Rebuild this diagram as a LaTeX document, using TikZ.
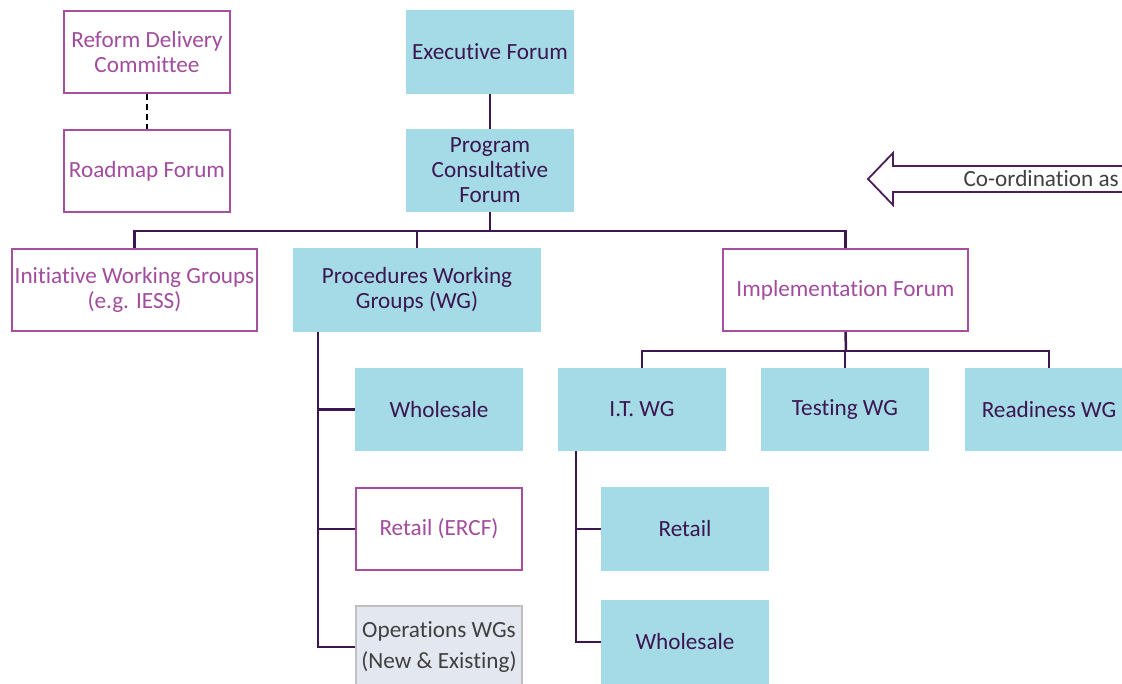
\documentclass[tikz,border=0pt]{standalone}
\usepackage{fontspec}
\setmainfont[Ligatures=NoCommon]{Carlito}
\definecolor{boxblue}{HTML}{A5DBE7}
\definecolor{ink}{HTML}{3B1650}
\definecolor{plum}{HTML}{A44FA0}
\definecolor{plumtext}{HTML}{A24C9E}
\definecolor{opsfill}{HTML}{E3E8F0}
\definecolor{opsline}{HTML}{BFBFBF}
\definecolor{arrowline}{HTML}{4B1E5A}
\definecolor{note}{HTML}{404040}
\begin{document}
\begin{tikzpicture}[x=1pt,y=-1pt,
  every node/.style={font=\fontsize{23.2}{25}\selectfont, align=center, inner sep=0pt},
  bluebox/.style={fill=boxblue, text=ink, minimum width=168pt, minimum height=84pt},
  linebox/.style={draw=plum, line width=1.6pt, fill=white, text=plumtext, minimum width=166pt, minimum height=82pt},
  greybox/.style={draw=opsline, line width=1.6pt, fill=opsfill, text=note, minimum width=166pt, minimum height=82pt},
  link/.style={draw=ink, line width=2.5pt},
  dotlink/.style={draw=black, line width=1.8pt, dash pattern=on 6pt off 4pt}]
\useasboundingbox (0,0) rectangle (1122,684);
\clip (0,0) rectangle (1122,684);
\fill[white] (0,0) rectangle (1122,684);

% governance column
\node[linebox] (rdc) at (147,52) {Reform Delivery\\Committee};
\node[linebox] (road) at (147,171) {Roadmap Forum};
\draw[dotlink] (rdc.south) -- (road.north);

% executive chain
\node[bluebox] (exec) at (490,52) {Executive Forum};
\node[bluebox, minimum height=83pt] (pcf) at (490,170.5) {Program\\Consultative\\Forum};

% second tier
\node[linebox, minimum width=245pt] (iwg) at (134.5,290) {Initiative Working Groups\\(e.g. IESS)};
\node[bluebox, minimum width=248pt] (pwg) at (417,290) {Procedures Working\\Groups (WG)};
\node[linebox, minimum width=245pt] (impl) at (845.5,290) {Implementation Forum};

% procedures branch
\node[bluebox, minimum height=83pt] (whs1) at (439,409.5) {Wholesale};
\node[linebox] (ret1) at (439,529) {Retail (ERCF)};
\node[greybox, font=\fontsize{23.2}{31}\selectfont] (ops) at (439,647) {Operations WGs\\(New \& Existing)};

% implementation branch
\node[bluebox, minimum height=83pt] (it) at (642,409.5) {I.T. WG};
\node[bluebox, minimum height=83pt] (test) at (845,409.5) {Testing WG};
\node[bluebox, minimum height=83pt] (ready) at (1049,409.5) {Readiness WG};
\node[bluebox] (ret2) at (685,529) {Retail};
\node[bluebox] (whs2) at (685,642) {Wholesale};

% connectors
\coordinate (bus) at (490,231);
\coordinate (ptrunk) at (318,332);
\coordinate (ibus) at (846,351);
\coordinate (ittrunk) at (576,451);

\draw[link] (exec.south) -- (pcf.north);
\draw[link] (pcf.south) -- (bus);
\draw[link] (iwg.north) -- (iwg.north |- bus) -- (impl.north |- bus) -- (impl.north);
\draw[link] (pwg.north) -- (pwg.north |- bus);

\draw[link] (ptrunk) |- (ops.west);
\draw[link] (ptrunk |- whs1.west) -- (whs1.west);
\draw[link] (ptrunk |- ret1.west) -- (ret1.west);

\draw[link] (impl.south) -- (ibus);
\draw[link] (it.north) -- (it.north |- ibus) -- (ready.north |- ibus) -- (ready.north);
\draw[link] (test.north) -- (test.north |- ibus);

\draw[link] (ittrunk) |- (whs2.west);
\draw[link] (ittrunk |- ret2.west) -- (ret2.west);

% co-ordination arrow
\draw[draw=arrowline, line width=1.8pt, fill=white, line join=miter]
  (1135,166) -- (893,166) -- (893,153) -- (868,179) -- (893,205) -- (893,192) -- (1135,192);
\node[anchor=east, text=note] (coord) at (1119,179) {Co-ordination as};
\end{tikzpicture}
\end{document}
